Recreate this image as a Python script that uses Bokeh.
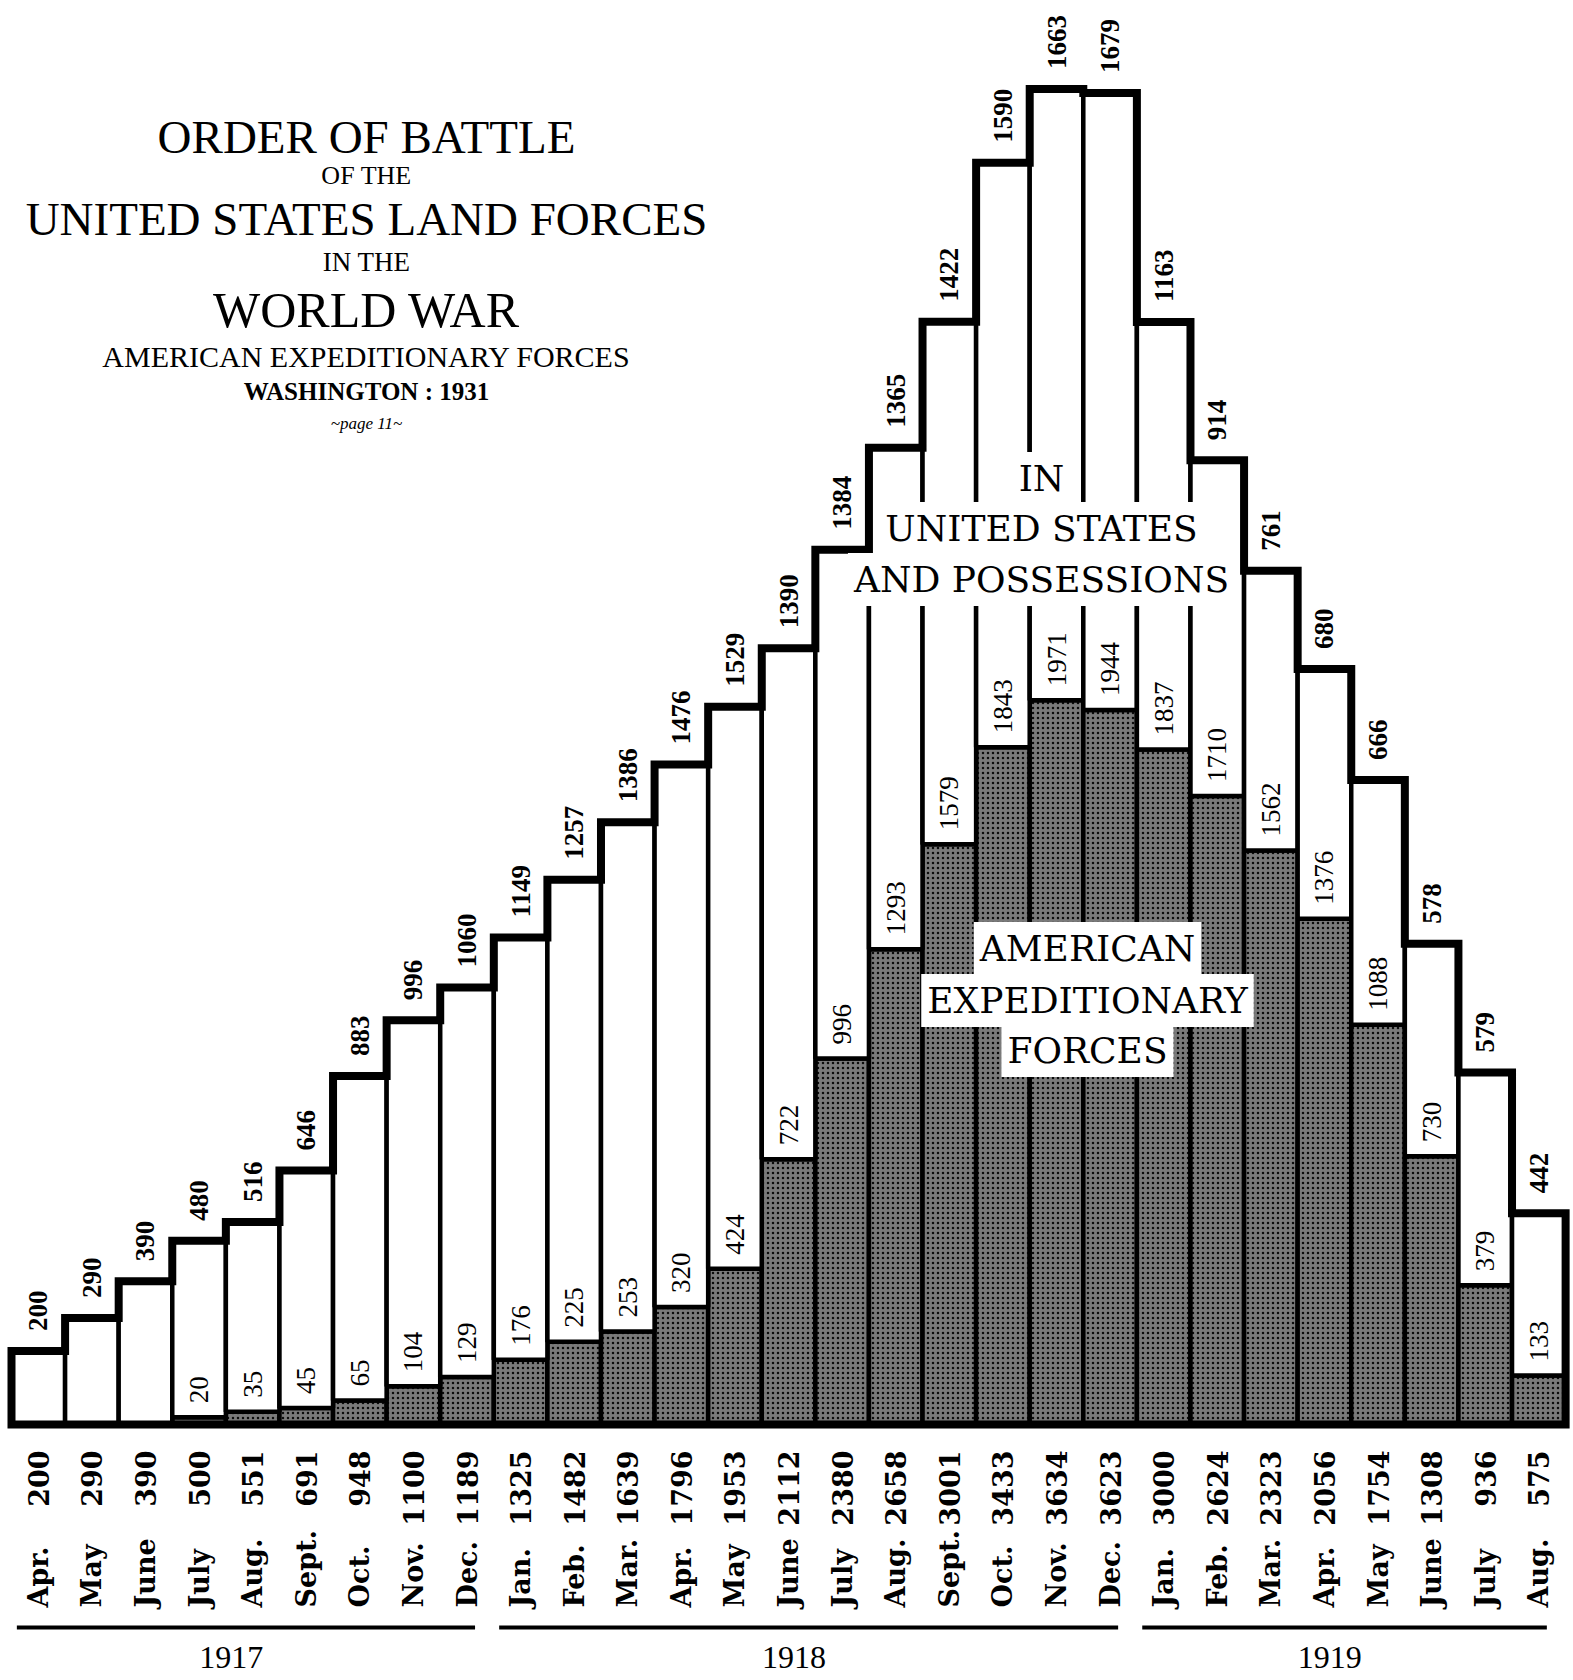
from bokeh.plotting import figure
from bokeh.models import Range1d, ColumnDataSource
from bokeh.core.properties import value
from bokeh.embed import file_html
from bokeh.resources import INLINE
import math

# ---------------- data (thousands of men) ----------------
months = ["Apr.", "May", "June", "July", "Aug.", "Sept.", "Oct.", "Nov.", "Dec.",
          "Jan.", "Feb.", "Mar.", "Apr.", "May", "June", "July", "Aug.", "Sept.", "Oct.", "Nov.", "Dec.",
          "Jan.", "Feb.", "Mar.", "Apr.", "May", "June", "July", "Aug."]
in_us = [200, 290, 390, 480, 516, 646, 883, 996, 1060,
         1149, 1257, 1386, 1476, 1529, 1390, 1384, 1365, 1422, 1590, 1663, 1679,
         1163, 914, 761, 680, 666, 578, 579, 442]
aef = [0, 0, 0, 20, 35, 45, 65, 104, 129,
       176, 225, 253, 320, 424, 722, 996, 1293, 1579, 1843, 1971, 1944,
       1837, 1710, 1562, 1376, 1088, 730, 379, 133]
totals = [200, 290, 390, 500, 551, 691, 948, 1100, 1189,
          1325, 1482, 1639, 1796, 1953, 2112, 2380, 2658, 3001, 3433, 3634, 3623,
          3000, 2624, 2323, 2056, 1754, 1308, 936, 575]
years = ["1917", "1918", "1919"]
year_months = [9, 12, 8]

# ---------------- layout (pixels of the page) ----------------
W, H = 1573, 1680
KX = 53.59          # px per month
X0_PX = 11          # page px of left edge of first bar
KY = 0.3675         # px per thousand
Y0_PX = 1424        # page px of zero line

xmin = -X0_PX / KX
xmax = xmin + W / KX
ymax = Y0_PX / KY
ymin = ymax - H / KY

def xd(px):
    return xmin + px / KX

def yd(py):
    return ymax - py / KY

n = len(months)
centers = [i + 0.5 for i in range(n)]
stack_top = [a + u for a, u in zip(aef, in_us)]

p = figure(width=W, height=H, x_range=Range1d(xmin, xmax), y_range=Range1d(ymin, ymax),
           output_backend="svg", toolbar_location=None, min_border=0)
p.axis.visible = False
p.grid.visible = False
p.outline_line_color = None
p.background_fill_color = "white"
p.border_fill_color = "white"

src = ColumnDataSource(dict(x=centers, aef=aef, top=stack_top, us=in_us))

# A.E.F. part (stippled)
p.vbar(x="x", width=1.0, bottom=0, top="aef", source=src,
       fill_color="#7a7a7a", hatch_pattern="dot", hatch_color="black",
       hatch_scale=5, hatch_weight=2.5, hatch_alpha=0.9,
       line_color="black", line_width=4.5)
# In United States part (white)
p.vbar(x="x", width=1.0, bottom="aef", top="top", source=src,
       fill_color="white", line_color="black", line_width=4.5)

# heavy outline of the whole staircase
sx, sy = [0], [0]
for i, t in enumerate(stack_top):
    sx += [i, i + 1]
    sy += [t, t]
sx += [n]
sy += [0]
p.patch(sx, sy, fill_color=None, line_color="black", line_width=8, line_join="miter")

# value labels above each bar (in U.S.)
p.text(x=centers, y=[t + 20 / KY for t in stack_top], text=[str(v) for v in in_us],
       angle=math.pi / 2, text_align="left", text_baseline="middle",
       text_font=value("Liberation Serif"), text_font_style="bold",
       text_font_size="27px", text_color="black")

# A.E.F. labels just above stippled part
ax = [c for c, a in zip(centers, aef) if a > 0]
ay = [a + 14 / KY for a in aef if a > 0]
at = [str(a) for a in aef if a > 0]
p.text(x=ax, y=ay, text=at, angle=math.pi / 2, text_align="left", text_baseline="middle",
       text_font=value("Liberation Serif"), text_font_size="27px", text_color="black")

# totals and months under bars
p.text(x=centers, y=[yd(1450)] * n, text=[str(v) for v in totals],
       angle=math.pi / 2, text_align="right", text_baseline="middle",
       text_font=value("DejaVu Serif"), text_font_style="bold",
       text_font_size="27px", text_color="black")
p.text(x=centers, y=[yd(1607)] * n, text=months,
       angle=math.pi / 2, text_align="left", text_baseline="middle",
       text_font=value("DejaVu Serif"), text_font_style="bold",
       text_font_size="27px", text_color="black")

# year brackets
start = 0
for yr, cnt in zip(years, year_months):
    x0, x1 = start + 0.1, start + cnt - 0.35
    p.line([x0, x1], [yd(1627), yd(1627)], line_color="black", line_width=4)
    p.text(x=[start + cnt / 2 - 0.4], y=[yd(1657)], text=[yr], text_align="center",
           text_baseline="middle", text_font=value("Liberation Serif"),
           text_font_size="32px", text_color="black")
    start += cnt

# in-chart captions with white background boxes
def caption(txt, cx, cy, size="36px"):
    p.text(x=[xd(cx)], y=[yd(cy)], text=[txt], text_align="center", text_baseline="middle",
           text_font=value("DejaVu Serif"), text_font_size=size, text_color="black",
           background_fill_color="white", padding=6)

caption("IN", 1041, 478)
caption("UNITED STATES", 1041, 528)
caption("AND POSSESSIONS", 1041, 579)
caption("AMERICAN", 1087, 948)
caption("EXPEDITIONARY", 1087, 1000)
caption("FORCES", 1087, 1050)

# title block
def title(txt, cy, size, style="normal"):
    p.text(x=[xd(366)], y=[yd(cy)], text=[txt], text_align="center", text_baseline="middle",
           text_font=value("Liberation Serif"), text_font_size=size,
           text_font_style=style, text_color="black")

title("ORDER OF BATTLE", 136, "47px")
title("OF THE", 175, "26px")
title("UNITED STATES LAND FORCES", 218, "47px")
title("IN THE", 261, "27px")
title("WORLD WAR", 309, "50px")
title("AMERICAN EXPEDITIONARY FORCES", 356, "30px")
title("WASHINGTON : 1931", 391, "25px", "bold")
title("~page 11~", 423, "17px", "italic")

open("out.html", "w").write(file_html(p, INLINE))
